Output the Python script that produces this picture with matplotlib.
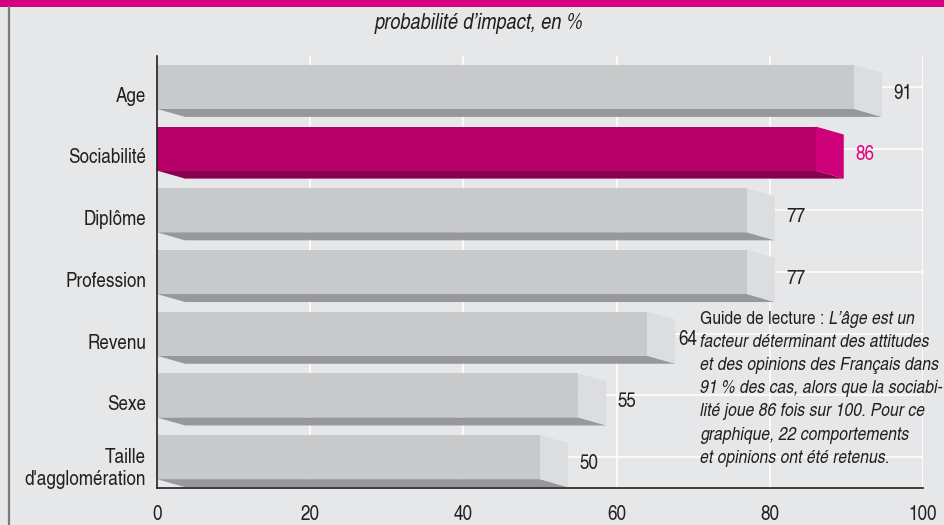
import numpy as np
import matplotlib.pyplot as plt
from matplotlib.patches import Polygon, Rectangle

# data
categories = ["Age", "Sociabilité", "Diplôme", "Profession", "Revenu", "Sexe",
              "Taille\nd'agglomération"]
values = [91, 86, 77, 77, 64, 55, 50]
highlight = "Sociabilité"
subtitle = "probabilité d\u2019impact, en %"
x_ticks = [0, 20, 40, 60, 80, 100]

plt.rcParams['font.family'] = ['TeX Gyre Heros Cn', 'DejaVu Sans']

bg = "#e6e7e9"
txt = "#231f20"
grey = ("#c8c9cb", "#dcdddf", "#97989c")      # front, side, bottom
pink = ("#b8006b", "#cd007a", "#8a0050")

fig = plt.figure(figsize=(9.44, 5.25), dpi=100)
fig.patch.set_facecolor(bg)

# magenta band on top and grey border on the left
fig.add_artist(Rectangle((0, 1 - 7 / 525), 1, 7 / 525, transform=fig.transFigure,
                         color="#d5007f", lw=0))
fig.add_artist(plt.Line2D([8.5 / 944, 8.5 / 944], [0, 1 - 7 / 525],
                          transform=fig.transFigure, color="#7a7a7a", lw=1.6))
fig.text(479 / 944, 1 - 24 / 525, subtitle, ha="center", va="center",
         fontsize=16, style="italic", color=txt)

ax = fig.add_axes([157 / 944, 1 - 488 / 525, (923 - 157) / 944, (488 - 56) / 525])
ax.set_facecolor(bg)
ax.set_xlim(0, 100)
ax.set_ylim(6.5, -0.5)

# depth of the 3d effect in data units
dx = 28 / 7.66
dy = 8 / 61.7
h = 0.357

for x in x_ticks[1:]:
    ax.axvline(x, color="white", lw=1.2, zorder=0)
for i in range(len(categories)):
    ax.axhline(i, color="white", lw=1.2, zorder=0)

for i, (cat, v) in enumerate(zip(categories, values)):
    front, side, bottom = pink if cat == highlight else grey
    ax.add_patch(Polygon([(0, i + h), (v, i + h), (v + dx, i + h + dy), (dx, i + h + dy)],
                         closed=True, color=bottom, lw=0, zorder=2))
    ax.add_patch(Polygon([(v, i - h), (v + dx, i - h + dy), (v + dx, i + h + dy), (v, i + h)],
                         closed=True, color=side, lw=0, zorder=2))
    ax.barh(i, v, height=2 * h, color=front, lw=0, zorder=3)
    col = "#e4007f" if cat == highlight else txt
    lx = v + dx + 1.5
    if cat == "Revenu":
        lx = v + dx + 0.4
    ax.text(lx, i + 0.1, str(v), ha="left", va="center", fontsize=15, color=col)

ax.set_yticks([i + 0.12 for i in range(len(categories))])
ax.set_yticklabels(categories, fontsize=15, color=txt)
ax.set_xticks(x_ticks)
ax.set_xticklabels([str(t) for t in x_ticks], fontsize=15, color=txt)
ax.tick_params(length=0)
ax.tick_params(axis="y", pad=8)
ax.tick_params(axis="x", pad=12)
for s in ["top", "right"]:
    ax.spines[s].set_visible(False)
for s in ["left", "bottom"]:
    ax.spines[s].set_color("#231f20")
    ax.spines[s].set_linewidth(1.2)
    ax.spines[s].set_zorder(5)

guide = [("Guide de lecture : ", "L\u2019âge est un"),
         ("", "facteur déterminant des attitudes"),
         ("", "et des opinions des Français dans"),
         ("", "91\u2009% des cas, alors que la sociabi-"),
         ("", "lité joue 86 fois sur 100. Pour ce"),
         ("", "graphique, 22 comportements"),
         ("", "et opinions ont été retenus.")]
y0 = 319
for k, (a, b) in enumerate(guide):
    yy = 1 - (y0 + 23.2 * k) / 525
    if a:
        t = fig.text(700 / 944, yy, a, ha="left", va="center", fontsize=13.8, color=txt)
        fig.canvas.draw()
        bb = t.get_window_extent()
        fig.text(bb.x1 / 944, yy, b, ha="left", va="center", fontsize=13.8,
                 style="italic", color=txt)
    else:
        fig.text(700 / 944, yy, b, ha="left", va="center", fontsize=13.8,
                 style="italic", color=txt)

fig.savefig("out.png", dpi=100, facecolor=bg)
